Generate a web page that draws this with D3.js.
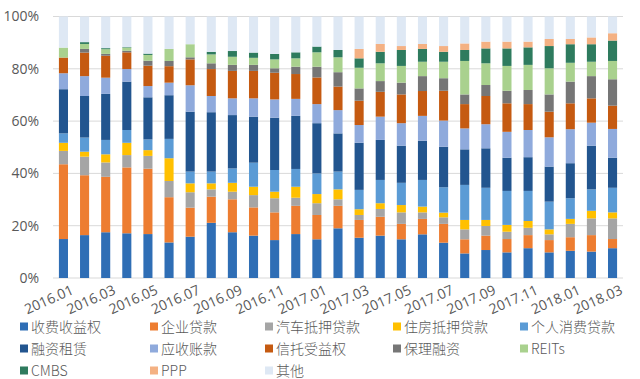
<!DOCTYPE html>
<html>
<head>
<meta charset="utf-8">
<script src="https://cdn.jsdelivr.net/npm/d3@7"></script>
<style>
  html, body { margin: 0; padding: 0; background: #fff; }
  svg { display: block; font-family: "Noto Sans CJK SC", "Noto Sans", sans-serif; }
</style>
</head>
<body>
<svg id="chart" width="640" height="379"></svg>
<script>
const categories = ["2016.01","2016.02","2016.03","2016.04","2016.05","2016.06","2016.07","2016.08","2016.09","2016.10","2016.11","2016.12",
  "2017.01","2017.02","2017.03","2017.04","2017.05","2017.06","2017.07","2017.08","2017.09","2017.10","2017.11","2017.12",
  "2018.01","2018.02","2018.03"];
const tickLabels = ["2016.01","2016.03","2016.05","2016.07","2016.09","2016.11","2017.01","2017.03","2017.05","2017.07","2017.09","2017.11","2018.01","2018.03"];
const yTicks = [0, 20, 40, 60, 80, 100];

const seriesNames = ["收费收益权","企业贷款","汽车抵押贷款","住房抵押贷款","个人消费贷款","融资租赁","应收账款","信托受益权","保理融资","REITs","CMBS","PPP","其他"];

const feeRights     = [14.9,16.4,17.5,17.1,16.8,13.6,15.8,21.1,17.5,16.2,14.5,16.8,14.8,19.0,15.4,16.2,14.8,16.7,13.5,9.4,10.7,9.8,11.4,9.8,10.4,10.1,11.4];
const corpLoans     = [28.6,22.9,21.2,25.2,25.0,17.3,11.1,10.0,12.6,10.8,10.6,10.8,9.3,8.6,6.8,7.2,5.9,5.9,7.2,5.4,5.5,5.1,5.0,4.7,5.2,6.3,3.5];
const autoLoans     = [5.1,7.1,5.5,4.7,4.9,6.2,5.9,2.8,2.9,4.7,5.4,3.1,4.5,2.5,1.9,3.0,4.4,2.5,2.5,3.8,3.7,2.8,2.8,2.2,5.1,6.4,7.9];
const mortgages     = [3.1,1.9,3.1,4.7,2.2,8.7,3.4,2.3,3.4,3.2,2.5,4.2,3.5,3.8,2.2,2.2,2.8,2.2,1.8,3.6,2.3,2.6,2.6,1.9,1.9,2.9,2.3];
const consumerLoans = [3.6,5.4,5.5,4.9,4.1,7.4,4.5,4.5,5.5,9.2,8.3,6.8,7.9,6.8,7.4,8.9,8.5,10.2,9.7,13.4,12.3,13.0,11.5,10.6,7.9,8.2,9.4];
const leasing       = [16.9,15.9,17.6,18.5,16.1,16.7,22.9,22.7,20.4,17.6,20.0,20.3,19.2,14.6,18.0,15.3,14.2,15.0,15.5,13.6,15.1,12.7,12.9,13.4,13.4,16.7,11.5];
const receivables   = [6.1,7.6,6.2,4.8,4.3,4.8,10.1,6.2,6.4,7.0,7.0,6.5,7.3,8.9,6.8,8.9,8.6,9.5,10.0,8.0,9.2,9.9,10.4,11.2,13.0,8.8,11.0];
const trustRights   = [6.0,9.0,8.4,6.4,7.8,6.3,9.9,10.3,10.5,10.5,10.2,9.5,10.2,9.0,9.3,9.5,11.0,9.5,11.4,9.3,10.8,10.9,9.9,9.8,9.9,9.3,8.9];
const factoring     = [0,1.4,0.7,0.6,1.9,2.0,0.8,2.2,2.3,2.3,1.7,2.8,4.1,5.5,4.7,4.1,4.5,5.7,4.8,3.7,4.2,4.8,5.4,6.6,8.3,8.5,10.1];
const reits         = [3.8,1.9,1.8,1.2,2.2,4.6,5.0,3.4,3.1,2.7,3.4,3.2,5.5,5.7,7.9,6.8,6.4,5.5,6.3,12.8,8.3,9.5,9.6,10.0,7.2,5.5,7.0];
const cmbs          = [0,0.7,0.4,0.2,0.5,0,0,1.0,2.2,2.0,2.1,2.3,2.2,2.8,3.6,4.4,6.1,4.9,3.8,4.2,5.7,6.7,6.7,8.5,7.1,6.7,7.8];
const ppp           = [0,0,0,0,0,0,0,0,0,0,0,0,0,0,3.6,3.0,1.5,1.9,2.2,2.5,2.6,2.6,2.2,2.7,2.0,2.6,2.8];
const others        = [11.9,9.8,12.1,11.7,14.2,12.4,10.6,13.5,13.2,13.8,14.3,13.7,11.5,12.8,12.4,10.5,11.3,10.5,11.3,10.3,9.6,9.6,9.6,8.6,8.6,8.0,6.4];

const seriesValues = [feeRights, corpLoans, autoLoans, mortgages, consumerLoans, leasing, receivables, trustRights, factoring, reits, cmbs, ppp, others];
const colors = ["#2F6EB5","#ED7D31","#A5A5A5","#FFC000","#5B9BD5","#22558F","#8FAADC","#C55A11","#767676","#A9D18E","#2E7B5E","#F4B183","#DEE8F4"];

const table = categories.map((c, i) => {
  const row = { cat: c };
  seriesNames.forEach((s, j) => { row[s] = seriesValues[j][i]; });
  return row;
});

const svg = d3.select("#chart");
const mLeft = 53, mRight = 623, mTop = 16.5, mBottom = 278;

const x = d3.scaleBand().domain(categories).range([mLeft, mRight]).paddingInner(0.57).paddingOuter(0.28);
const y = d3.scaleLinear().domain([0, 100]).range([mBottom, mTop]);

// gridlines
svg.append("g").selectAll("line").data(yTicks).join("line")
  .attr("x1", mLeft).attr("x2", mRight)
  .attr("y1", d => y(d)).attr("y2", d => y(d))
  .attr("stroke", "#D9D9D9").attr("stroke-width", 1);

// y axis labels
const yAxis = d3.axisLeft(y).tickValues(yTicks).tickFormat(d => d + "%").tickSize(0).tickPadding(0);
const yg = svg.append("g").attr("transform", `translate(${mLeft - 14},0)`).call(yAxis);
yg.select(".domain").remove();
yg.selectAll("text").attr("fill", "#595959").style("font-size", "14px")
  .style("font-family", "'Open Sans', 'Noto Sans', sans-serif");

// stacked bars
const stack = d3.stack().keys(seriesNames);
const stacked = stack(table);
svg.append("g").selectAll("g").data(stacked).join("g")
  .attr("fill", (d, i) => colors[i])
  .selectAll("rect").data(d => d).join("rect")
  .attr("x", d => x(d.data.cat))
  .attr("width", x.bandwidth())
  .attr("y", d => y(d[1]))
  .attr("height", d => Math.max(0, y(d[0]) - y(d[1])));

// x axis labels
const xAxis = d3.axisBottom(x).tickValues(tickLabels).tickSize(0).tickPadding(0);
const xg = svg.append("g").attr("transform", `translate(0,${mBottom + 11})`).call(xAxis);
xg.select(".domain").remove();
xg.selectAll("text")
  .attr("fill", "#595959")
  .style("font-size", "14px")
  .style("font-family", "'Open Sans', 'Noto Sans', sans-serif")
  .attr("text-anchor", "end")
  .attr("dy", "0.35em")
  .attr("transform", "translate(9,0) rotate(-24)");

// legend
const legendCols = [20, 150, 265, 393, 520];
const legendRows = [327, 349, 371];
const lg = svg.append("g");
seriesNames.forEach((s, i) => {
  const cx = legendCols[i % 5], cy = legendRows[Math.floor(i / 5)];
  const g = lg.append("g").attr("transform", `translate(${cx},${cy})`);
  g.append("rect").attr("x", 0).attr("y", -4.5).attr("width", 8).attr("height", 8).attr("fill", colors[i]);
  g.append("text").attr("x", 11).attr("y", 0).attr("dy", "0.35em")
    .attr("fill", "#595959").style("font-size", "14px").style("font-weight", 300).text(s);
});
</script>
</body>
</html>
